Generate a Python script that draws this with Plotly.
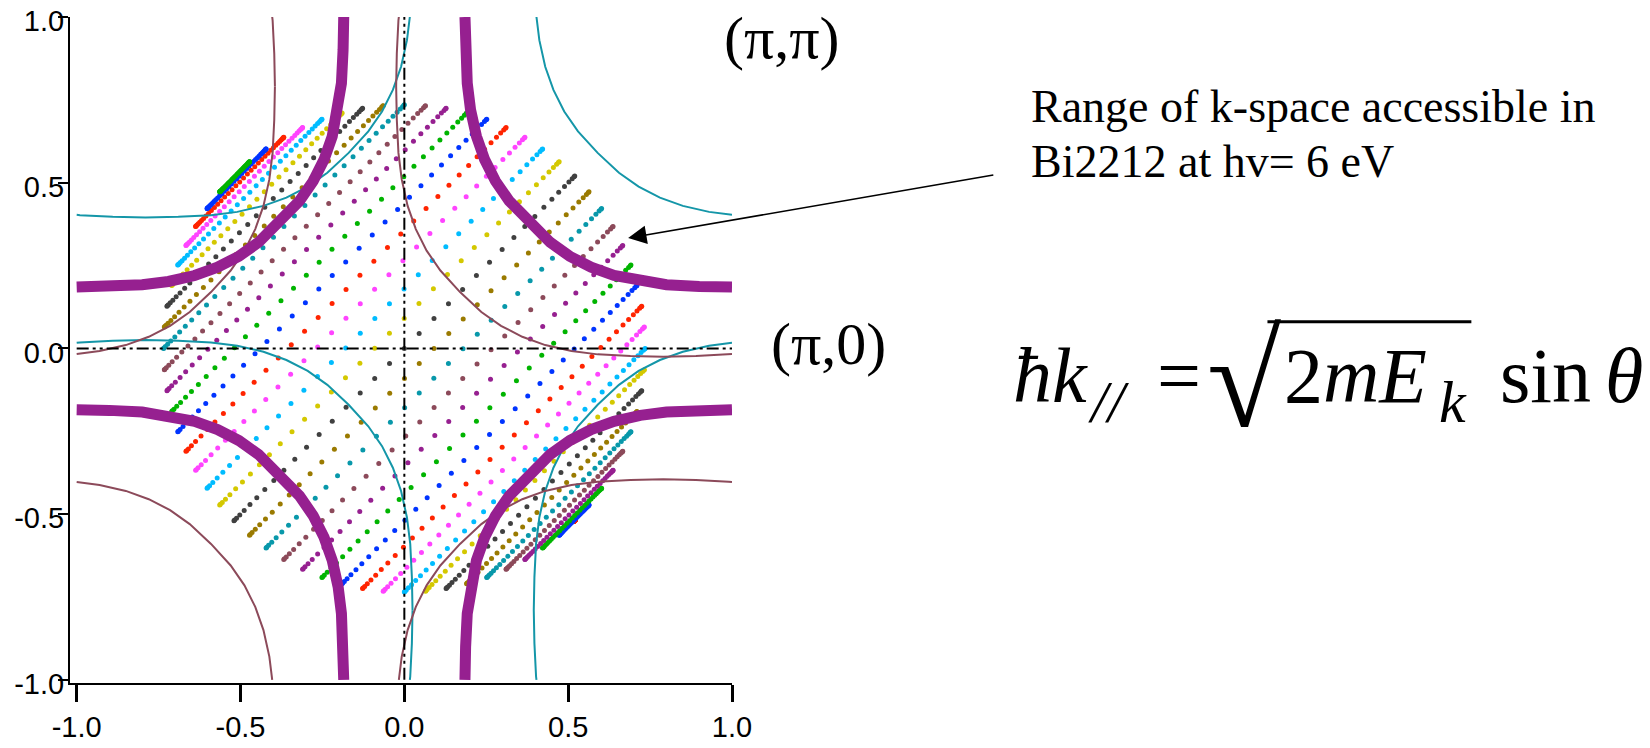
import plotly.graph_objects as go

# ---------------- data ----------------
tick_vals = [-1.0, -0.5, 0.0, 0.5, 1.0]
tick_text = ["-1.0", "-0.5", "0.0", "0.5", "1.0"]

# One quarter of the Fermi-surface pocket, as offsets from the zone corner (pi,pi)
fs_dx = [0.815, 0.813, 0.808, 0.798, 0.780, 0.755, 0.722, 0.680, 0.620,
         0.555, 0.495, 0.430, 0.360, 0.280, 0.200, 0.100, 0.000]
fs_dy = [0.000, 0.100, 0.200, 0.280, 0.360, 0.430, 0.495, 0.555, 0.620,
         0.680, 0.722, 0.755, 0.780, 0.798, 0.808, 0.813, 0.815]

corner_x = [1.0, -1.0, -1.0, 1.0]
corner_y = [1.0, 1.0, -1.0, -1.0]
replica_shift = 0.21          # superstructure replica shift along the diagonal

# k-space coverage: rows parallel to the (1,1) diagonal
# row_offset = ky - kx of each row, row_half_len = half extent of (kx + ky)
row_offset = [-1.040, -1.036, -1.024, -1.005, -0.977, -0.943, -0.900, -0.852, -0.797,
              -0.735, -0.668, -0.597, -0.520, -0.440, -0.356, -0.269, -0.180, -0.091,
              0.000, 0.091, 0.180, 0.269, 0.356, 0.440, 0.520, 0.597, 0.668,
              0.735, 0.797, 0.852, 0.900, 0.943, 0.977, 1.005, 1.024, 1.036]
row_half_len = [0.000, 0.091, 0.180, 0.269, 0.356, 0.440, 0.520, 0.597, 0.668,
                0.735, 0.797, 0.852, 0.900, 0.943, 0.977, 1.005, 1.024, 1.036,
                1.040, 1.036, 1.024, 1.005, 0.977, 0.943, 0.900, 0.852, 0.797,
                0.735, 0.668, 0.597, 0.520, 0.440, 0.356, 0.269, 0.180, 0.091]
row_color_index = [4, 5, 6, 7, 8, 9, 10, 0, 1, 2, 3, 4, 5, 6, 7, 8, 9, 10,
                   0, 1, 2, 3, 4, 5, 6, 7, 8, 9, 10, 0, 1, 2, 3, 4, 5, 6]
dot_frac = [-1.000, -0.996, -0.985, -0.966, -0.940, -0.906, -0.866, -0.819, -0.766,
            -0.707, -0.643, -0.574, -0.500, -0.423, -0.342, -0.259, -0.174, -0.087,
            0.000, 0.087, 0.174, 0.259, 0.342, 0.423, 0.500, 0.574, 0.643,
            0.707, 0.766, 0.819, 0.866, 0.906, 0.940, 0.966, 0.985, 0.996, 1.000]

palette = ["#404040", "#d4c800", "#00bcff", "#ff44ff", "#ff2400", "#0034ff",
           "#00b400", "#962090", "#8c4a5a", "#0898aa", "#9a7a00"]

FS_COLOR = "#962090"
TEAL = "#1496a8"
BROWN = "#8c4a5a"

# ---------------- geometry helpers ----------------
PL, PR, PT, PB = 70.0, 732.3, 16.7, 683.3


def px(xp):
    return (xp - PL) / (PR - PL)


def py(yp):
    return (PB - yp) / (PB - PT)


def pocket(cx, cy):
    xs, ys = [], []
    n = len(fs_dx)
    for i in range(n):
        xs.append(cx + fs_dx[i]); ys.append(cy + fs_dy[i])
    for i in reversed(range(n)):
        xs.append(cx - fs_dx[i]); ys.append(cy + fs_dy[i])
    for i in range(n):
        xs.append(cx - fs_dx[i]); ys.append(cy - fs_dy[i])
    for i in reversed(range(n)):
        xs.append(cx + fs_dx[i]); ys.append(cy - fs_dy[i])
    return xs, ys


def clip(xs, ys, lo=-1.0, hi=1.0):
    ox, oy = [], []
    for i in range(len(xs) - 1):
        x0, y0, x1, y1 = xs[i], ys[i], xs[i + 1], ys[i + 1]
        dx, dy = x1 - x0, y1 - y0
        t0, t1, ok = 0.0, 1.0, True
        for p, q in ((-dx, x0 - lo), (dx, hi - x0), (-dy, y0 - lo), (dy, hi - y0)):
            if abs(p) < 1e-12:
                if q < -1e-12:
                    ok = False
                    break
            else:
                r = q / p
                if p < 0:
                    if r > t1:
                        ok = False
                        break
                    t0 = max(t0, r)
                else:
                    if r < t0:
                        ok = False
                        break
                    t1 = min(t1, r)
        if not ok:
            if ox and ox[-1] is not None:
                ox.append(None); oy.append(None)
            continue
        if not ox or ox[-1] is None or t0 > 1e-9:
            if ox and ox[-1] is not None:
                ox.append(None); oy.append(None)
            ox.append(x0 + t0 * dx); oy.append(y0 + t0 * dy)
        ox.append(x0 + t1 * dx); oy.append(y0 + t1 * dy)
        if t1 < 1 - 1e-9:
            ox.append(None); oy.append(None)
    return ox, oy


def fs_family(shift):
    ax, ay = [], []
    for cx, cy in zip(corner_x, corner_y):
        xs, ys = pocket(cx + shift, cy + shift)
        cxs, cys = clip(xs, ys)
        ax += cxs + [None]
        ay += cys + [None]
    return ax, ay


fig = go.Figure()

# coverage dots
for c, L, ci in zip(row_offset, row_half_len, row_color_index):
    s = [L * f for f in dot_frac]
    xs = [(v - c) / 2 for v in s]
    ys = [(v + c) / 2 for v in s]
    fig.add_trace(go.Scatter(x=xs, y=ys, mode="markers",
                             marker=dict(size=5, color=palette[ci], line=dict(width=0)),
                             showlegend=False, hoverinfo="skip"))

# replica Fermi surfaces
for shift, col in ((replica_shift, TEAL), (-replica_shift, BROWN)):
    fx, fy = fs_family(shift)
    fig.add_trace(go.Scatter(x=fx, y=fy, mode="lines", line=dict(color=col, width=2),
                             connectgaps=False, showlegend=False, hoverinfo="skip"))

# main Fermi surface
fx, fy = fs_family(0.0)
fig.add_trace(go.Scatter(x=fx, y=fy, mode="lines", line=dict(color=FS_COLOR, width=11),
                         connectgaps=False, showlegend=False, hoverinfo="skip"))

# dash-dot zero lines
dash = "12px,4px,3px,4px,3px,4px"
fig.add_shape(type="line", x0=-1, x1=1, y0=0, y1=0, xref="x", yref="y",
              line=dict(color="black", width=2, dash=dash))
fig.add_shape(type="line", x0=0, x1=0, y0=-1, y1=1, xref="x", yref="y",
              line=dict(color="black", width=2, dash=dash))

SERIF = "Liberation Serif, Times New Roman, serif"


def label(text, left, baseline, size, family=SERIF):
    fig.add_annotation(xref="paper", yref="paper", x=px(left), y=py(baseline - 0.3375 * size),
                       xanchor="left", yanchor="middle", showarrow=False, text=text,
                       font=dict(family=family, size=size, color="black"))


label("(π,π)", 722, 58, 60)
label("(π,0)", 769, 364, 60)
label("Range of k-space accessible in", 1029, 121.7, 46)
label("Bi2212 at hv= 6 eV", 1029, 176.7, 46)

# formula
label("<i>ħk</i>", 1011, 401.7, 78)
label("<i>//</i>", 1086, 422, 60)
label("=", 1155, 401.7, 78)
label("√", 1206, 426, 135)
label("2<i>mE</i>", 1283, 401.7, 78)
label("<i>k</i>", 1438, 422, 60)
label("sin", 1499, 401.7, 78)
label("<i>θ</i>", 1604, 401.7, 78)
fig.add_shape(type="line", xref="paper", yref="paper", x0=px(1268), x1=px(1472),
              y0=py(321.7), y1=py(321.7), line=dict(color="black", width=3))

# arrow
fig.add_annotation(x=0.683, y=0.333, xref="x", yref="y", ax=366.7, ay=-63.3,
                   axref="pixel", ayref="pixel", text="", showarrow=True,
                   arrowhead=2, arrowsize=2.3, arrowwidth=1.6, arrowcolor="black")

axis_common = dict(showgrid=False, zeroline=False, showline=True, linecolor="black",
                   linewidth=2, ticks="outside", tickcolor="black", automargin=False,
                   tickvals=tick_vals, ticktext=tick_text,
                   tickfont=dict(family="Liberation Sans, Arial, sans-serif", size=29,
                                 color="black"))

fig.update_layout(
    width=1650, height=748,
    margin=dict(l=PL, r=1650 - PR, t=PT, b=748 - PB, pad=0, autoexpand=False),
    paper_bgcolor="white", plot_bgcolor="white",
    xaxis=dict(range=[-1.0204, 1.0], ticklen=17, tickwidth=2.5, **axis_common),
    yaxis=dict(range=[-1.0096, 1.0], ticklen=10, tickwidth=2,
               ticklabelstandoff=-12, ticklabelshift=4, **axis_common),
    showlegend=False,
)

fig.write_html("out.html", config={"displayModeBar": False},
               post_script="document.body.style.margin='0px';")
